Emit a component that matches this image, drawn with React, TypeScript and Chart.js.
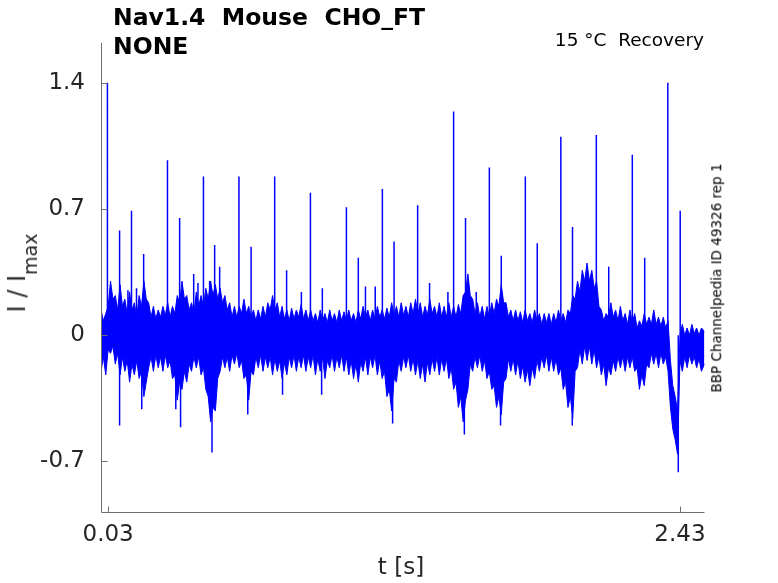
import { useEffect, useRef } from "react";
import { Chart, registerables } from "chart.js";

Chart.register(...registerables);

// envelope of the noisy trace, every 0.02 s
const envelopeT = [
  0, 0.02, 0.04, 0.06, 0.08, 0.1, 0.12, 0.14, 0.16, 0.18,
  0.2, 0.22, 0.24, 0.26, 0.28, 0.3, 0.32, 0.34, 0.36, 0.38,
  0.4, 0.42, 0.44, 0.46, 0.48, 0.5, 0.52, 0.54, 0.56, 0.58,
  0.6, 0.62, 0.64, 0.66, 0.68, 0.7, 0.72, 0.74, 0.76, 0.78,
  0.8, 0.82, 0.84, 0.86, 0.88, 0.9, 0.92, 0.94, 0.96, 0.98,
  1.0, 1.02, 1.04, 1.06, 1.08, 1.1, 1.12, 1.14, 1.16, 1.18,
  1.2, 1.22, 1.24, 1.26, 1.28, 1.3, 1.32, 1.34, 1.36, 1.38,
  1.4, 1.42, 1.44, 1.46, 1.48, 1.5, 1.52, 1.54, 1.56, 1.58,
  1.6, 1.62, 1.64, 1.66, 1.68, 1.7, 1.72, 1.74, 1.76, 1.78,
  1.8, 1.82, 1.84, 1.86, 1.88, 1.9, 1.92, 1.94, 1.96, 1.98,
  2.0, 2.02, 2.04, 2.06, 2.08, 2.1, 2.12, 2.14, 2.16, 2.18,
  2.2, 2.22, 2.24, 2.26, 2.28, 2.3, 2.32, 2.34, 2.36, 2.38,
  2.4, 2.42, 2.44, 2.46, 2.48, 2.5, 2.52, 2.533,
];

const upperV = [
  0.14, 0.12, 0.3, 0.22, 0.28, 0.2, 0.24, 0.18, 0.22, 0.3,
  0.18, 0.16, 0.14, 0.16, 0.18, 0.16, 0.22, 0.3, 0.22, 0.18,
  0.24, 0.22, 0.26, 0.3, 0.28, 0.26, 0.22, 0.18, 0.16, 0.16,
  0.2, 0.16, 0.14, 0.14, 0.16, 0.18, 0.22, 0.18, 0.16, 0.14,
  0.15, 0.14, 0.17, 0.14, 0.14, 0.12, 0.14, 0.12, 0.14, 0.12,
  0.14, 0.13, 0.14, 0.12, 0.14, 0.16, 0.14, 0.14, 0.16, 0.14,
  0.15, 0.18, 0.16, 0.18, 0.16, 0.18, 0.2, 0.18, 0.16, 0.2,
  0.16, 0.18, 0.16, 0.18, 0.16, 0.17, 0.22, 0.34, 0.2, 0.18,
  0.16, 0.16, 0.18, 0.2, 0.28, 0.18, 0.14, 0.14, 0.13, 0.14,
  0.12, 0.14, 0.12, 0.12, 0.12, 0.12, 0.14, 0.12, 0.14, 0.22,
  0.3, 0.36, 0.4, 0.36, 0.3, 0.14, 0.12, 0.18, 0.14, 0.16,
  0.12, 0.14, 0.12, 0.08, 0.12, 0.1, 0.14, 0.1, 0.1, 0.08,
  -0.28, -0.42, 0.06, 0.04, 0.06, 0.04, 0.04, 0.02,
];

const lowerV = [
  -0.2, -0.22, -0.1, -0.16, -0.22, -0.2, -0.26, -0.22, -0.24, -0.34,
  -0.18, -0.2, -0.18, -0.2, -0.18, -0.24, -0.36, -0.3, -0.26, -0.2,
  -0.18, -0.22, -0.3, -0.48, -0.42, -0.2, -0.18, -0.2, -0.16, -0.18,
  -0.24, -0.36, -0.22, -0.18, -0.2, -0.18, -0.22, -0.2, -0.24, -0.22,
  -0.18, -0.2, -0.18, -0.2, -0.18, -0.22, -0.2, -0.24, -0.18, -0.2,
  -0.18, -0.2, -0.22, -0.24, -0.26, -0.2, -0.22, -0.18, -0.22, -0.24,
  -0.34, -0.42, -0.26, -0.2, -0.18, -0.2, -0.22, -0.24, -0.26, -0.22,
  -0.2, -0.22, -0.2, -0.24, -0.3, -0.4, -0.48, -0.3, -0.2, -0.18,
  -0.2, -0.24, -0.3, -0.4, -0.44, -0.24, -0.2, -0.22, -0.24, -0.26,
  -0.28, -0.24, -0.2, -0.18, -0.2, -0.2, -0.22, -0.3, -0.4, -0.46,
  -0.18, -0.16, -0.14, -0.16, -0.18, -0.22, -0.28, -0.22, -0.2, -0.18,
  -0.2, -0.18, -0.2, -0.3, -0.28, -0.18, -0.16, -0.18, -0.16, -0.2,
  -0.52, -0.66, -0.2, -0.18, -0.16, -0.18, -0.2, -0.16,
];

// the inner edge of the band halfway between those samples (the ragged edge)
const midT = [
  0.01, 0.03, 0.05, 0.07, 0.09, 0.11, 0.13, 0.15, 0.17, 0.19,
  0.21, 0.23, 0.25, 0.27, 0.29, 0.31, 0.33, 0.35, 0.37, 0.39,
  0.41, 0.43, 0.45, 0.47, 0.49, 0.51, 0.53, 0.55, 0.57, 0.59,
  0.61, 0.63, 0.65, 0.67, 0.69, 0.71, 0.73, 0.75, 0.77, 0.79,
  0.81, 0.83, 0.85, 0.87, 0.89, 0.91, 0.93, 0.95, 0.97, 0.99,
  1.01, 1.03, 1.05, 1.07, 1.09, 1.11, 1.13, 1.15, 1.17, 1.19,
  1.21, 1.23, 1.25, 1.27, 1.29, 1.31, 1.33, 1.35, 1.37, 1.39,
  1.41, 1.43, 1.45, 1.47, 1.49, 1.51, 1.53, 1.55, 1.57, 1.59,
  1.61, 1.63, 1.65, 1.67, 1.69, 1.71, 1.73, 1.75, 1.77, 1.79,
  1.81, 1.83, 1.85, 1.87, 1.89, 1.91, 1.93, 1.95, 1.97, 1.99,
  2.01, 2.03, 2.05, 2.07, 2.09, 2.11, 2.13, 2.15, 2.17, 2.19,
  2.21, 2.23, 2.25, 2.27, 2.29, 2.31, 2.33, 2.35, 2.37, 2.39,
  2.41, 2.43, 2.45, 2.47, 2.49, 2.51,
];

const midUpperV = [
  0.08, 0.16, 0.2, 0.14, 0.16, 0.12, 0.14, 0.1, 0.16, 0.2,
  0.1, 0.09, 0.1, 0.11, 0.1, 0.12, 0.18, 0.2, 0.14, 0.12,
  0.16, 0.16, 0.2, 0.22, 0.2, 0.18, 0.14, 0.1, 0.1, 0.12,
  0.12, 0.1, 0.08, 0.09, 0.1, 0.14, 0.14, 0.1, 0.09, 0.08,
  0.09, 0.1, 0.09, 0.08, 0.08, 0.07, 0.08, 0.07, 0.08, 0.07,
  0.08, 0.08, 0.08, 0.07, 0.09, 0.1, 0.08, 0.09, 0.1, 0.09,
  0.1, 0.11, 0.1, 0.11, 0.1, 0.12, 0.12, 0.1, 0.11, 0.12,
  0.1, 0.1, 0.1, 0.1, 0.1, 0.12, 0.24, 0.22, 0.12, 0.1,
  0.09, 0.1, 0.12, 0.16, 0.18, 0.1, 0.08, 0.08, 0.07, 0.08,
  0.07, 0.08, 0.06, 0.07, 0.06, 0.07, 0.08, 0.07, 0.12, 0.2,
  0.24, 0.3, 0.3, 0.26, 0.16, 0.08, 0.1, 0.1, 0.08, 0.08,
  0.06, 0.07, 0.04, 0.05, 0.06, 0.06, 0.06, 0.05, 0.04, -0.14,
  -0.34, 0.0, 0.0, 0.0, 0.01, 0.0,
];

const midLowerV = [
  -0.12, -0.08, -0.06, -0.1, -0.12, -0.14, -0.16, -0.14, -0.2, -0.26,
  -0.12, -0.11, -0.12, -0.11, -0.14, -0.22, -0.26, -0.2, -0.16, -0.12,
  -0.12, -0.18, -0.34, -0.4, -0.24, -0.12, -0.12, -0.11, -0.1, -0.14,
  -0.22, -0.2, -0.12, -0.11, -0.12, -0.12, -0.13, -0.14, -0.15, -0.12,
  -0.11, -0.12, -0.11, -0.12, -0.11, -0.13, -0.12, -0.14, -0.11, -0.12,
  -0.11, -0.12, -0.14, -0.16, -0.15, -0.12, -0.12, -0.11, -0.14, -0.2,
  -0.3, -0.24, -0.14, -0.12, -0.11, -0.13, -0.14, -0.16, -0.15, -0.13,
  -0.12, -0.13, -0.13, -0.18, -0.26, -0.34, -0.36, -0.16, -0.12, -0.11,
  -0.14, -0.2, -0.28, -0.34, -0.26, -0.13, -0.13, -0.14, -0.17, -0.19,
  -0.18, -0.14, -0.12, -0.11, -0.12, -0.13, -0.18, -0.26, -0.34, -0.2,
  -0.08, -0.06, -0.06, -0.08, -0.12, -0.16, -0.18, -0.14, -0.12, -0.12,
  -0.12, -0.12, -0.18, -0.22, -0.16, -0.1, -0.1, -0.1, -0.12, -0.4,
  -0.58, -0.14, -0.12, -0.11, -0.12, -0.13,
];

// narrow upward spikes
const spikeT = [
  0.027, 0.078, 0.113, 0.128, 0.149, 0.179, 0.279, 0.33, 0.389, 0.407,
  0.43, 0.456, 0.477, 0.498, 0.579, 0.63, 0.729, 0.779, 0.841, 0.879,
  0.929, 1.03, 1.08, 1.11, 1.151, 1.181, 1.23, 1.329, 1.379, 1.456,
  1.48, 1.53, 1.575, 1.63, 1.68, 1.781, 1.831, 1.93, 1.979, 2.079,
  2.131, 2.23, 2.282, 2.379, 2.431,
];
const spikeV = [
  1.4, 0.58, 0.25, 0.69, 0.26, 0.45, 0.97, 0.65, 0.34, 0.29,
  0.88, 0.3, 0.5, 0.38, 0.88, 0.49, 0.88, 0.36, 0.24, 0.79,
  0.26, 0.71, 0.43, 0.27, 0.27, 0.81, 0.52, 0.72, 0.29, 0.24,
  1.24, 0.65, 0.24, 0.93, 0.44, 0.88, 0.51, 1.1, 0.6, 1.11,
  0.38, 1.0, 0.43, 1.4, 0.69,
];

// narrow downward dips
const dipT = [
  0.078, 0.171, 0.314, 0.334, 0.466, 0.616, 0.762, 0.926, 1.224, 1.525,
  1.677, 1.978, 2.423,
];
const dipV = [
  -0.5, -0.41, -0.41, -0.51, -0.65, -0.44, -0.33, -0.33, -0.49, -0.55,
  -0.5, -0.5, -0.76,
];

const xTicks = [0.03, 2.43];
const yTicks = [-0.7, 0, 0.7, 1.4];

const BLUE = "#0000ff";
const AXIS = "#6e6e6e";
const FONT = "'DejaVu Sans', sans-serif";

const axesPlugin = {
  id: "matlabAxes",
  afterDraw(chart: any) {
    const { ctx, chartArea: a, scales } = chart;
    ctx.save();
    ctx.strokeStyle = AXIS;
    ctx.lineWidth = 1;
    ctx.beginPath();
    const l = Math.round(a.left) + 0.5;
    const b = Math.round(a.bottom) + 0.5;
    ctx.moveTo(l, a.top);
    ctx.lineTo(l, b);
    ctx.lineTo(a.right, b);
    xTicks.forEach((v) => {
      const px = Math.round(scales.x.getPixelForValue(v)) + 0.5;
      ctx.moveTo(px, b);
      ctx.lineTo(px, b - 6);
    });
    yTicks.forEach((v) => {
      const py = Math.round(scales.y.getPixelForValue(v)) + 0.5;
      ctx.moveTo(l, py);
      ctx.lineTo(l + 6, py);
    });
    ctx.stroke();
    ctx.restore();
  },
};

function mergeEdge(outer: number[], inner: number[]) {
  const pts = envelopeT.map((t, i) => ({ x: t, y: outer[i] }));
  midT.forEach((t, i) => pts.push({ x: t, y: inner[i] }));
  return pts.sort((p, q) => p.x - q.x);
}

export default function App() {
  const canvasRef = useRef<HTMLCanvasElement>(null);
  const chartRef = useRef<Chart | null>(null);

  useEffect(() => {
    if (!canvasRef.current) return;
    if (chartRef.current) chartRef.current.destroy();

    const upper = mergeEdge(upperV, midUpperV);
    const lower = mergeEdge(lowerV, midLowerV);
    const spikes: any[] = [];
    spikeT.forEach((t, i) => {
      spikes.push({ x: t, y: 0 }, { x: t, y: spikeV[i] }, { x: t, y: null });
    });
    const dips: any[] = [];
    dipT.forEach((t, i) => {
      dips.push({ x: t, y: 0 }, { x: t, y: dipV[i] }, { x: t, y: null });
    });

    chartRef.current = new Chart(canvasRef.current, {
      type: "line",
      data: {
        datasets: [
          { data: upper, borderColor: BLUE, borderWidth: 1, pointRadius: 0, fill: false },
          {
            data: lower,
            borderColor: BLUE,
            backgroundColor: BLUE,
            borderWidth: 1,
            pointRadius: 0,
            fill: "-1",
          },
          { data: spikes, borderColor: BLUE, borderWidth: 1.5, pointRadius: 0, spanGaps: false },
          { data: dips, borderColor: BLUE, borderWidth: 1.5, pointRadius: 0, spanGaps: false },
        ],
      },
      plugins: [axesPlugin],
      options: {
        animation: false,
        responsive: false,
        events: [],
        layout: { padding: { left: 0, right: 73.5, top: 43, bottom: 0 } },
        plugins: { legend: { display: false }, tooltip: { enabled: false } },
        elements: { line: { tension: 0 } },
        scales: {
          x: {
            type: "linear",
            min: 0,
            max: 2.533,
            grid: { display: false, drawTicks: false },
            border: { display: false },
            afterBuildTicks: (s: any) => {
              s.ticks = xTicks.map((v) => ({ value: v }));
            },
            afterFit: (s: any) => {
              s.height = 71;
            },
            ticks: {
              padding: 9,
              color: "#262626",
              font: { family: FONT, size: 23 },
              maxRotation: 0,
              callback: (v: any) => Number(v).toFixed(2),
            },
          },
          y: {
            type: "linear",
            min: -0.98,
            max: 1.62,
            grid: { display: false, drawTicks: false },
            border: { display: false },
            afterBuildTicks: (s: any) => {
              s.ticks = yTicks.map((v) => ({ value: v }));
            },
            afterFit: (s: any) => {
              s.width = 101;
            },
            ticks: {
              padding: 16,
              color: "#262626",
              font: { family: FONT, size: 23 },
              callback: (v: any) => String(v),
            },
          },
        },
      },
    });

    return () => {
      chartRef.current?.destroy();
      chartRef.current = null;
    };
  }, []);

  const text: React.CSSProperties = {
    position: "absolute",
    fontFamily: FONT,
    color: "#000",
    lineHeight: 1,
    whiteSpace: "pre",
  };

  return (
    <div style={{ position: "absolute", left: 0, top: 0, width: 778, height: 583, background: "#fff" }}>
      <canvas ref={canvasRef} width={778} height={583} style={{ width: 778, height: 583 }} />
      <div style={{ ...text, left: 113, top: 5.7, fontSize: 23.5, fontWeight: "bold" }}>
        {"Nav1.4  Mouse  CHO_FT"}
      </div>
      <div style={{ ...text, left: 113, top: 34.7, fontSize: 23.5, fontWeight: "bold" }}>NONE</div>
      <div style={{ ...text, right: 74, top: 31, fontSize: 18.5 }}>{"15 °C  Recovery"}</div>
      <div
        style={{
          ...text,
          left: 717,
          top: 278,
          fontSize: 13.5,
          transform: "translate(-50%, -50%) rotate(-90deg)",
        }}
      >
        BBP Channelpedia ID 49326 rep 1
      </div>
      <div
        style={{
          ...text,
          left: 16.7,
          top: 273,
          fontSize: 24,
          color: "#262626",
          transform: "translate(-50%, -50%) rotate(-90deg)",
        }}
      >
        {"I / I"}
        <span style={{ position: "relative", top: 12, fontSize: 19 }}>max</span>
      </div>
      <div
        style={{
          ...text,
          left: 401,
          top: 554.8,
          fontSize: 23,
          color: "#262626",
          transform: "translateX(-50%)",
        }}
      >
        t [s]
      </div>
    </div>
  );
}
